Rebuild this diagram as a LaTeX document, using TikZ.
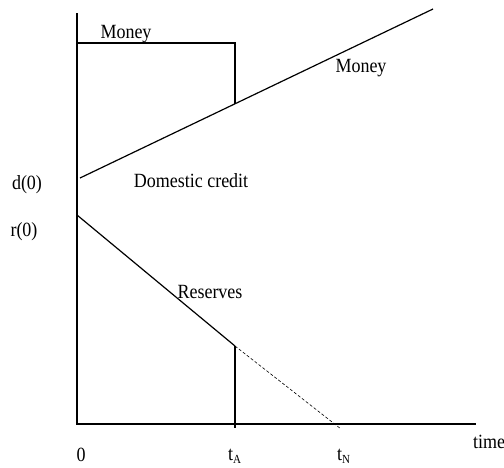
\documentclass[tikz,border=0pt]{standalone}
\usepackage{fontspec}
\setmainfont{Liberation Serif}
\newcommand{\tallbox}[1]{\scalebox{1}[1.12]{#1}}
\begin{document}
\begin{tikzpicture}[x=1pt,y=-1pt,
  axisline/.style={line width=1.8pt},
  curveline/.style={line width=1.2pt},
  guideline/.style={line width=1.1pt},
  dashline/.style={line width=0.6pt,dash pattern=on 3pt off 2pt},
  lbl/.style={inner sep=0pt,font=\fontsize{18}{20}\selectfont}]
\useasboundingbox (0,0) rectangle (504,467);
% coordinates
\coordinate (O) at (77,424);
\coordinate (Ytop) at (77,13);
\coordinate (Xend) at (476,424);
\coordinate (M0) at (77,43);
\coordinate (M1) at (235,43);
\coordinate (Mk) at (235,103.5);
\coordinate (D0) at (80,178);
\coordinate (D1) at (433,9);
\coordinate (R0) at (77,215);
\coordinate (RA) at (235,346);
\coordinate (RN) at (341,429);
\coordinate (TA) at (235,428);
% axes
\draw[axisline] (Ytop) -- (O) -- (Xend);
% money path
\draw[curveline] (M0) -- (M1) -- (Mk);
\draw[curveline] (D0) -- (D1);
% reserves
\draw[curveline] (R0) -- (RA);
\draw[dashline] (RA) -- (RN);
\draw[guideline] (RA) -- (TA);
% labels
\node[lbl] (lmoney1) at (126,34) {\tallbox{Money}};
\node[lbl] (lmoney2) at (361,68) {\tallbox{Money}};
\node[lbl] (ldc) at (191,181) {\tallbox{Domestic credit}};
\node[lbl] (ld0) at (27,185) {\tallbox{d(0)}};
\node[lbl] (lr0) at (24,232) {\tallbox{r(0)}};
\node[lbl] (lres) at (210,292) {\tallbox{Reserves}};
\node[lbl] (lzero) at (81,455) {\tallbox{0}};
\node[lbl,anchor=west] (ltA) at (228,456) {\tallbox{t\raisebox{-0.3ex}{\fontsize{11}{11}\selectfont A}}};
\node[lbl,anchor=west] (ltN) at (337,456) {\tallbox{t\raisebox{-0.3ex}{\fontsize{11}{11}\selectfont N}}};
\node[lbl,anchor=west] (ltime) at (473,442) {\tallbox{time}};
\end{tikzpicture}
\end{document}
